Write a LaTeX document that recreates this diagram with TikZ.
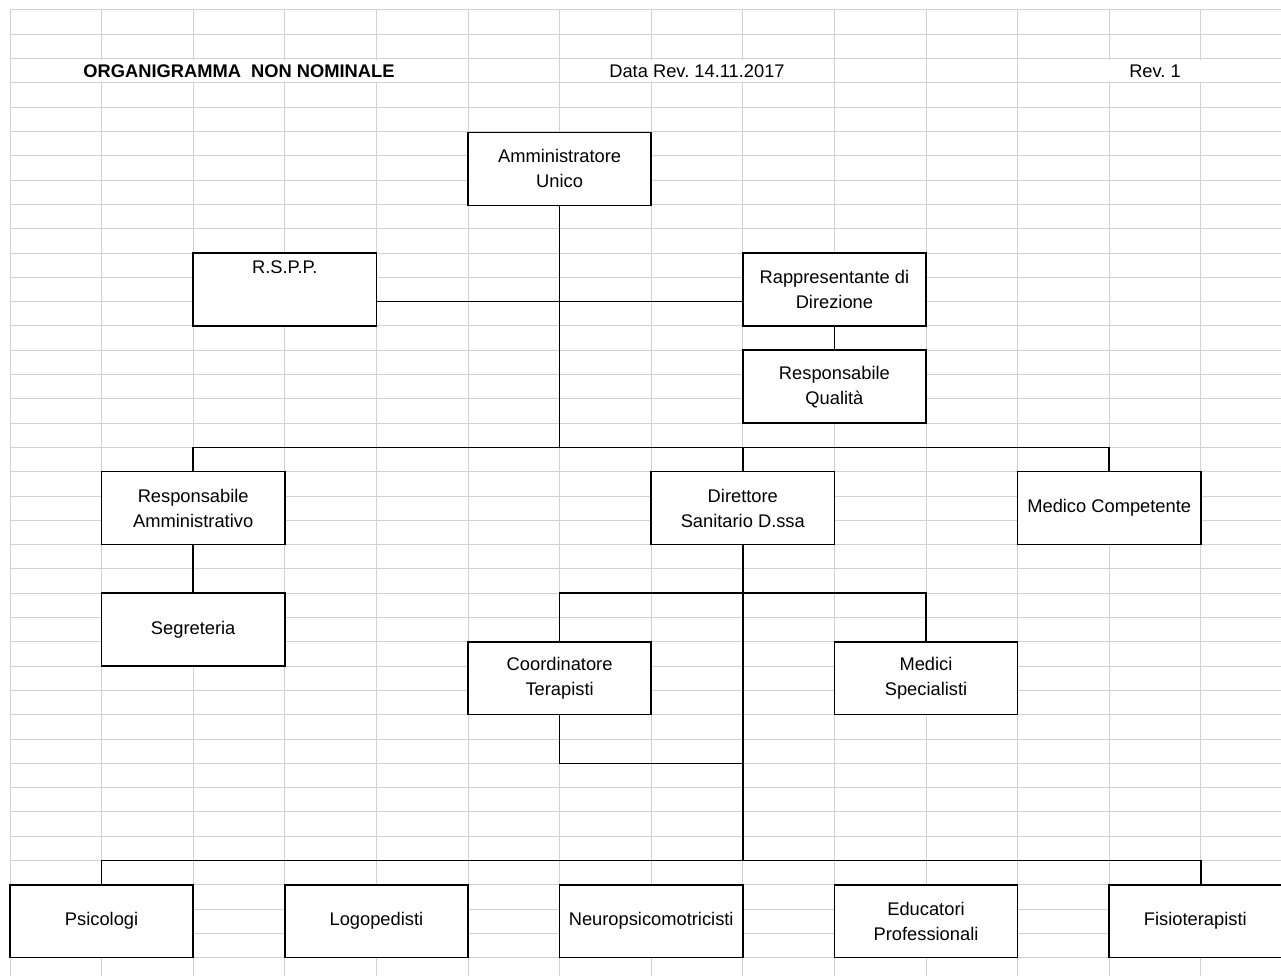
\documentclass[tikz,border=0pt]{standalone}
\usepackage{fontspec}
\setmainfont{Liberation Sans}
\frenchspacing
\usetikzlibrary{positioning, calc}
\definecolor{cellgray}{RGB}{210,210,210}
\tikzset{
    cellgrid/.style={draw=cellgray, line width=1pt},
    orgline/.style={line width=1.5pt},
    orgbox/.style={draw, fill=white, line width=1.5pt, minimum width=183.2pt, minimum height=72.9pt,
        inner sep=0pt, align=center, font=\fontsize{18.3}{25}\selectfont},
    headtext/.style={fill=white, inner sep=0pt, minimum height=22pt, font=\fontsize{18.3}{25}\selectfont},
    headbold/.style={headtext, font=\fontsize{18.3}{25}\selectfont\bfseries}
}

\begin{document}
\begin{tikzpicture}[x=1pt, y=-1pt]
    \def \cw {91.6}
    \def \rh {24.3}
    \fill[white] (0,0) rectangle (1281,976);
    \useasboundingbox (0,0) rectangle (1281,976);
    % sheet grid
    \foreach \c in {0,...,13}{
    \draw[cellgrid] ({10+\cw*\c},10) -- ({10+\cw*\c},976);}
    \foreach \r in {0,...,39}{
    \draw[cellgrid] (10,{10+\rh*\r}) -- (1281,{10+\rh*\r});}
    % header row
    \node[headbold, minimum width=454pt] (title) at (239,71.2) {ORGANIGRAMMA\ \ NON NOMINALE};
    \node[headtext, minimum width=130pt] (datarev) at (697,71.2) {Data Rev. 14.11.2017};
    \node[headtext, minimum width=170pt] (rev) at (1155,71.2) {Rev. 1};
    % boxes
    \node[orgbox] (admin) at (559.6,168.9) {Amministratore\\Unico};
    \node[orgbox, text height=13.2pt, text depth=45.5pt] (rspp) at (284.8,289.45) {R.S.P.P.};
    \node[orgbox] (rapp) at (834.4,289.45) {Rappresentante di\\Direzione};
    \node[orgbox] (qual) at (834.4,386.65) {Responsabile\\Qualità};
    \node[orgbox] (resamm) at (193.2,508.15) {Responsabile\\Amministrativo};
    \node[orgbox] (dir) at (742.8,508.15) {Direttore\\Sanitario D.ssa};
    \node[orgbox] (medcomp) at (1109.2,508.15) {Medico Competente};
    \node[orgbox] (segr) at (193.2,629.65) {Segreteria};
    \node[orgbox] (coord) at (559.6,678.25) {Coordinatore\\Terapisti};
    \node[orgbox] (medspec) at (926,678.25) {Medici\\Specialisti};
    \node[orgbox] (psi) at (101.6,921.25) {Psicologi};
    \node[orgbox] (logo) at (376.4,921.25) {Logopedisti};
    \node[orgbox] (neuro) at (651.2,921.25) {Neuropsicomotricisti};
    \node[orgbox] (edu) at (926,921.25) {Educatori\\Professionali};
    \node[orgbox] (fisio) at (1200.8,921.25) {\hspace*{-11pt}Fisioterapisti};
    % connectors
    \coordinate (t0) at (559.6,301.6);
    \coordinate (t1) at (559.6,447.4);
    \coordinate (t2) at (742.8,593.2);
    \coordinate (t3) at (742.8,763.3);
    \coordinate (t4) at (742.8,860.5);
    \draw[orgline] (admin.south) -- (t1);
    \draw[orgline] (rspp.east |- t0) -- (rapp.west |- t0);
    \draw[orgline] (rapp) -- (qual);
    \draw[orgline] (resamm.north) |- (medcomp.north |- t1) -- (medcomp.north);
    \draw[orgline] (dir.north) -- (dir.north |- t1);
    \draw[orgline] (resamm) -- (segr);
    \draw[orgline] (dir.south) -- (t4);
    \draw[orgline] (coord.north) |- (medspec.north |- t2) -- (medspec.north);
    \draw[orgline] (coord.south) |- (t3);
    \draw[orgline] (psi.north) |- (fisio.north |- t4) -- (fisio.north);
\end{tikzpicture}
\end{document}
